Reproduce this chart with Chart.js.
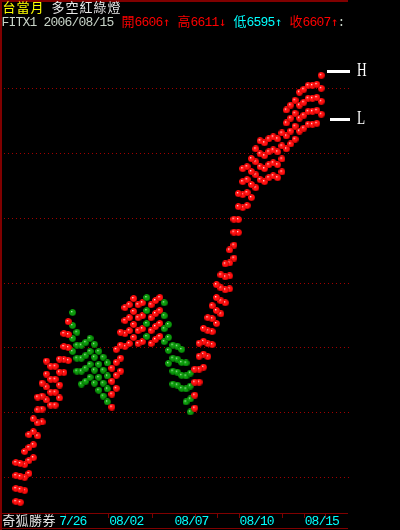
<!DOCTYPE html>
<html>
<head>
<meta charset="utf-8">
<script src="https://cdn.jsdelivr.net/npm/chart.js@4"></script>
<style>
  html, body { margin: 0; padding: 0; background: #000; }
  canvas { display: block; }
</style>
</head>
<body>
<canvas id="chart" width="400" height="530"></canvas>
<script>
// ========== DATA ==========
// top lamp of every bar (price)
const topRow = [
  6484.5, 6484.2, 6487.9, 6493.1, 6498, 6504.7, 6509, 6515.8, 6514.2, 6514.2,
  6516.4, 6524.3, 6528, 6530.8, 6524.7, 6520.7, 6521.6, 6522.8, 6521, 6518.8,
  6517, 6515.2, 6513.6, 6519.4, 6524.7, 6532.3, 6533.2, 6535.1, 6533.2, 6533.8,
  6535.4, 6533.2, 6534.5, 6535.4, 6533.8, 6527.1, 6520.7, 6520.4, 6519.4, 6515.2,
  6512.1, 6513.3, 6521.3, 6525.9, 6529.2, 6532.9, 6539.4, 6542.4, 6545.8, 6550.1,
  6559.6, 6567.5, 6575.2, 6575.8, 6578.3, 6581.3, 6583.8, 6583.2, 6584.4, 6585,
  6584.4, 6586.2, 6593.3, 6594.8, 6596.3, 6598.8, 6599.7, 6600.9, 6600.9, 6601.2,
  6604
];
// r = long (red lamp), g = short (green lamp)
const lampSide = [
  "r","r","r","r","r","r","r","r","r","r","r","r","r",
  "g","g","g","g","g","g","g","g","g",
  "r","r","r","r","r","r","r","r",
  "g",
  "r","r","r",
  "g","g","g","g","g","g","g",
  "r","r","r","r","r","r","r","r","r","r","r","r","r","r","r",
  "r","r","r","r","r","r","r","r","r","r","r","r","r","r","r"
];
// lamps stacked under the top one (price below top)
const rowOffsets = [0, 4, 8, 12];
const gridLevels = [6480, 6500, 6520, 6540, 6560, 6580, 6600];
const dayLabels = ["7/26", "08/02", "08/07", "08/10", "08/15"];
const dayLabelAt = [13.15, 25.4, 40.35, 55.3, 70.25];
const dayTickAt = [11.25, 21.1, 31.1, 41.1, 46.2, 51.1, 61.1, 66, 70.9];
const hiLevel = 6605.2;
const loLevel = 6590.5;

const quoteDate = "2006/08/15";
const openPx = 6606, highPx = 6611, lowPx = 6595, closePx = 6607;

// ========== LAMP SPRITES ==========
function makeBall(light, base, dark) {
  const c = document.createElement("canvas");
  c.width = 7;
  c.height = 7;
  const g = c.getContext("2d");
  const grad = g.createRadialGradient(2.4, 2.4, 0.2, 3.5, 3.5, 3.7);
  grad.addColorStop(0, light);
  grad.addColorStop(0.3, base);
  grad.addColorStop(0.75, base);
  grad.addColorStop(1, dark);
  g.fillStyle = grad;
  g.beginPath();
  g.arc(3.5, 3.5, 3.5, 0, Math.PI * 2);
  g.fill();
  return c;
}
const redBall = makeBall("#ffe6e6", "#ff0f0f", "#a00000");
const greenBall = makeBall("#b0f0b0", "#0c9a0c", "#004a00");

const datasets = rowOffsets.map((off) => ({
  data: topRow.map((v, i) => ({ x: i, y: v - off })),
  pointStyle: (ctx) => (lampSide[ctx.dataIndex] === "g" ? greenBall : redBall),
  pointRadius: 3.5,
  showLine: false,
}));

// ========== TEXT HELPERS ==========
const CJK = "13px 'Noto Sans CJK TC'";
const MONO = "13px 'Liberation Mono'";
const ARROW = "12px 'DejaVu Sans Mono'";

function cells(ctx, str, x, base, color, cw) {
  ctx.fillStyle = color;
  ctx.textAlign = "center";
  ctx.textBaseline = "alphabetic";
  for (const ch of str) {
    const arrow = ch === "↑" || ch === "↓";
    const wide = !arrow && ch.charCodeAt(0) > 0x2e80;
    const w = wide ? cw * 2 : cw;
    ctx.font = wide ? CJK : arrow ? ARROW : MONO;
    if (ch !== " ") ctx.fillText(ch, x + w / 2, base);
    x += w;
  }
  return x;
}

// ========== FRAME PLUGIN ==========
const frame = {
  id: "frame",
  beforeDraw(chart) {
    const ctx = chart.ctx;
    ctx.save();
    ctx.fillStyle = "#000";
    ctx.fillRect(0, 0, chart.width, chart.height);
    ctx.restore();
  },
  beforeDatasetsDraw(chart) {
    const { ctx, chartArea, scales } = chart;
    ctx.save();
    ctx.fillStyle = "#a00000";
    gridLevels.forEach((v) => {
      const y = Math.round(scales.y.getPixelForValue(v));
      for (let x = 4; x < chartArea.right; x += 4) ctx.fillRect(x, y, 1, 1);
    });
    ctx.restore();
  },
  afterDraw(chart) {
    const { ctx, chartArea, scales } = chart;
    const right = chartArea.right - 2;
    ctx.save();
    // frame lines
    ctx.fillStyle = "#800000";
    ctx.fillRect(0, 0, 2, chart.height);
    ctx.fillRect(0, 0, right, 2);
    ctx.fillRect(0, chartArea.bottom, right, 1);
    ctx.fillRect(0, chart.height - 2, right, 1);
    dayTickAt.forEach((v) => {
      const x = Math.round(scales.x.getPixelForValue(v));
      ctx.fillRect(x, chartArea.bottom, 1, 5);
    });

    // x labels
    dayLabels.forEach((t, i) => {
      const cx = scales.x.getPixelForValue(dayLabelAt[i]);
      cells(ctx, t, cx - (t.length * 6.8) / 2, 525, "#00ffff", 6.8);
    });
    ctx.fillStyle = "#000";
    ctx.fillRect(2, 514, 54, 13);
    cells(ctx, "奇狐勝券", 2, 525, "#e6e6e6", 6.7);

    // title
    let x = cells(ctx, "台當月", 2, 12, "#ffff00", 7);
    cells(ctx, " 多空紅綠燈", x, 12, "#e6e6e6", 7);
    x = cells(ctx, "FITX1 " + quoteDate + " ", 2, 26, "#c8d4c8", 7);
    x = cells(ctx, "開" + openPx + "↑ ", x, 26, "#ff0000", 7);
    x = cells(ctx, "高" + highPx + "↓ ", x, 26, "#ff0000", 7);
    x = cells(ctx, "低" + lowPx + "↑ ", x, 26, "#00ffff", 7);
    x = cells(ctx, "收" + closePx + "↑", x, 26, "#ff0000", 7);
    cells(ctx, ":", x, 26, "#c8d4c8", 7);

    // H / L markers
    ctx.fillStyle = "#ffffff";
    const yH = scales.y.getPixelForValue(hiLevel);
    const yL = scales.y.getPixelForValue(loLevel);
    ctx.fillRect(327, Math.round(yH) - 1, 23, 3);
    ctx.fillRect(330, Math.round(yL) - 1, 20, 3);
    ctx.font = "19px 'Liberation Serif'";
    ctx.textAlign = "left";
    ctx.textBaseline = "alphabetic";
    [["H", yH], ["L", yL]].forEach(([t, y]) => {
      ctx.save();
      ctx.translate(357, y + 5);
      ctx.scale(0.7, 1);
      ctx.fillText(t, 0, 0);
      ctx.restore();
    });
    ctx.restore();
  },
};

// ========== CHART ==========
new Chart(document.getElementById("chart"), {
  type: "scatter",
  data: { datasets },
  options: {
    responsive: false,
    animation: false,
    devicePixelRatio: 1,
    events: [],
    layout: { padding: { left: 1, top: 1, right: 50, bottom: 17 } },
    plugins: { legend: { display: false }, tooltip: { enabled: false } },
    scales: {
      x: { type: "linear", display: false, min: -2.5, max: 76.6 },
      y: { type: "linear", display: false, min: 6468.9, max: 6625.7 },
    },
  },
  plugins: [frame],
});
</script>
</body>
</html>
